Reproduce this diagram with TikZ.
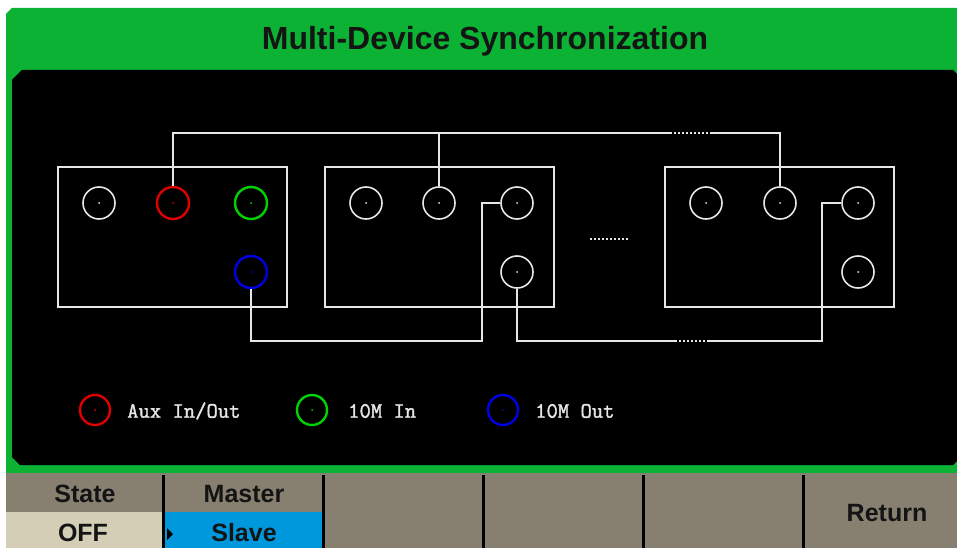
\documentclass[tikz,border=0pt]{standalone}
\usepackage{fontspec}
\setmainfont{Liberation Sans}
\newfontfamily\keyfont[AutoFakeBold=1.6]{Latin Modern Mono}
\definecolor{scrgreen}{HTML}{0CB233}
\definecolor{menugray}{HTML}{878070}
\definecolor{offbeige}{HTML}{D4CEB6}
\definecolor{slaveblue}{HTML}{0098DC}
\definecolor{wire}{HTML}{E6E6E6}
\definecolor{auxred}{HTML}{E00000}
\definecolor{tengreen}{HTML}{00D400}
\definecolor{tenblue}{HTML}{0000E6}
\definecolor{label}{HTML}{141414}
\tikzset{
  port/.style={circle, draw=#1, line width=1.6pt, minimum size=32pt, inner sep=0pt,
    path picture={\fill[#1] (path picture bounding box.center) circle (1pt);}},
  port/.default=wire,
  sigport/.style={port=#1, line width=2.4pt},
  keyport/.style={port=#1, line width=2.4pt, minimum size=30pt},
  devbox/.style={draw=wire, line width=2pt, minimum width=229pt, minimum height=140pt, inner sep=0pt},
  cable/.style={draw=wire, line width=2pt},
  dotcable/.style={draw=wire, line width=1.5pt, dash pattern=on 1.5pt off 2.5pt},
  keytext/.style={anchor=west, text=wire, font=\keyfont\bfseries\fontsize{22}{22}\selectfont, inner sep=0pt},
  menutext/.style={text=label, font=\bfseries\fontsize{25}{25}\selectfont, inner sep=0pt}
}
\begin{document}
\begin{tikzpicture}[x=1pt,y=-1pt]
  \useasboundingbox (0,0) rectangle (957,548);
  \fill[white] (0,0) rectangle (957,548);
  \fill[scrgreen] (6,14) -- (12,8) -- (957,8) -- (957,473) -- (6,473) -- cycle;
  \fill[black] (12,80) -- (22,70) -- (953,70) -- (957,74) -- (957,461) -- (953,465) -- (20,465) -- (12,457) -- cycle;
  \node[text=label, font=\bfseries\fontsize{32}{32}\selectfont] (title) at (485,41) {Multi-Device Synchronization};

  \node[devbox] (dev1) at (172.5,237) {};
  \node[devbox] (dev2) at (439.5,237) {};
  \node[devbox] (dev3) at (779.5,237) {};

  \node[port] (a1) at (99,203) {};
  \node[sigport=auxred] (a2) at (173,203) {};
  \node[sigport=tengreen] (a3) at (251,203) {};
  \node[sigport=tenblue] (a4) at (251,272) {};
  \node[port] (b1) at (366,203) {};
  \node[port] (b2) at (439,203) {};
  \node[port] (b3) at (517,203) {};
  \node[port] (b4) at (517,272) {};
  \node[port] (c1) at (706,203) {};
  \node[port] (c2) at (780,203) {};
  \node[port] (c3) at (858,203) {};
  \node[port] (c4) at (858,272) {};

  \coordinate (t1) at (670,133);
  \coordinate (t2) at (710,133);
  \coordinate (k1) at (482,341);
  \coordinate (d1) at (675,341);
  \coordinate (d2) at (708,341);
  \coordinate (k2) at (822,203);
  \draw[cable] (a2.north) |- (t1);
  \draw[dotcable] (t1) -- (t2);
  \draw[cable] (t2) -| (c2.north);
  \draw[cable] (b2.north) -- (b2.north |- t1);
  \draw[cable] (a4.south) |- (k1) |- (b3.west);
  \draw[cable] (b4.south) |- (d1);
  \draw[dotcable] (d1) -- (d2);
  \draw[cable] (d2) -| (k2) -- (c3.west);
  \coordinate (m1) at (590,239);
  \coordinate (m2) at (628,239);
  \draw[dotcable] (m1) -- (m2);

  \node[keyport=auxred] (keyaux) at (95,410) {};
  \node[keytext] (txtaux) at (127,411) {Aux In/Out};
  \node[keyport=tengreen] (keyin) at (312,410) {};
  \node[keytext] (txtin) at (348,411) {10M In};
  \node[keyport=tenblue] (keyout) at (503,410) {};
  \node[keytext] (txtout) at (535,411) {10M Out};

  \fill[menugray] (6,473) rectangle (957,548);
  \fill[offbeige] (6,512) rectangle (162,548);
  \fill[slaveblue] (165,512) rectangle (322,548);
  \foreach \x in {163,323,483,643,803}
    \fill[black] (\x-1.5,475) rectangle (\x+1.5,548);
  \fill[black] (167,528) -- (173,534) -- (167,540) -- cycle;
  \node[menutext] (state) at (85,494) {State};
  \node[menutext] (off) at (83,533) {OFF};
  \node[menutext] (master) at (244,494) {Master};
  \node[menutext] (slave) at (244,533) {Slave};
  \node[menutext] (return) at (887,513) {Return};
\end{tikzpicture}
\end{document}
